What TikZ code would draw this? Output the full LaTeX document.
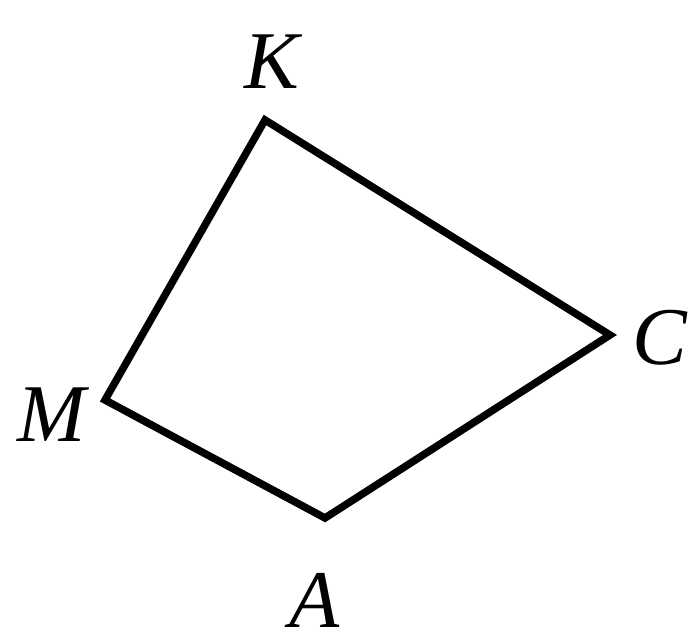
\documentclass[tikz,border=0pt]{standalone}
\usepackage{fontspec}
\setmainfont{Liberation Serif}
\begin{document}
\begin{tikzpicture}[x=1pt,y=-1pt,
  edge/.style={line width=7.5pt,line join=miter,black},
  lbl/.style={font=\fontsize{82}{82}\selectfont\itshape,inner sep=0pt}]
\useasboundingbox (0,0) rectangle (694,644);
\coordinate (K) at (265,120);
\coordinate (C) at (610,335);
\coordinate (A) at (325,518);
\coordinate (M) at (105,400);
\draw[edge] (K) -- (C) -- (A) -- (M) -- cycle;
\node[lbl] (lK) at (272,62) {K};
\node[lbl] (lC) at (660,338) {C};
\node[lbl] (lM) at (52,415) {M};
\node[lbl] (lA) at (315,600) {A};
\end{tikzpicture}
\end{document}
